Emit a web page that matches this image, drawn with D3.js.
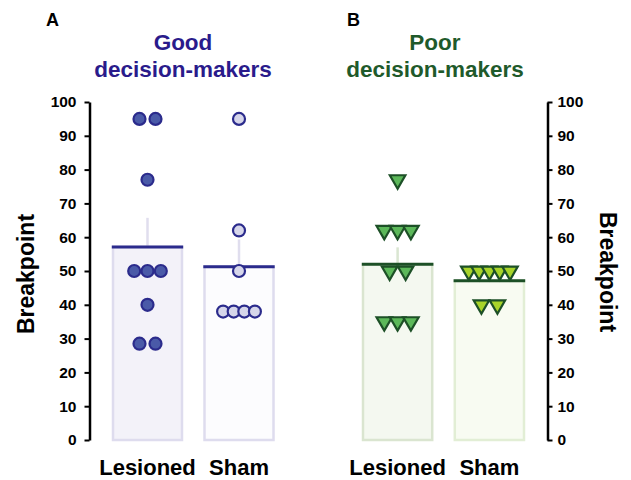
<!DOCTYPE html>
<html>
<head>
<meta charset="utf-8">
<script src="https://cdn.jsdelivr.net/npm/d3@7"></script>
<style>
  body { margin: 0; background: #fff; }
  svg text { font-family: "Liberation Sans", Arial, Helvetica, sans-serif; font-weight: bold; }
</style>
</head>
<body>
<svg id="chart"></svg>
<script>
const width = 631;
const height = 480;

// data
const groups = ["Lesioned", "Sham"];
const goodLesioned = [95, 95, 77, 50, 50, 50, 40, 28.5, 28.5];
const goodSham = [95, 62, 50, 38, 38, 38, 38];
const poorLesioned = [77, 62, 62, 62, 50, 50, 35, 35, 35];
const poorSham = [50, 50, 50, 50, 50, 40, 40];
const yTicks = [0, 10, 20, 30, 40, 50, 60, 70, 80, 90, 100];

const svg = d3.select('#chart')
    .attr('width', width).attr('height', height);

const y = d3.scaleLinear().domain([0, 100]).range([440, 102]);

// spacing between points that share a value, by how many share it
const spread = {1: 0, 2: 16, 3: 13.3, 4: 10.6, 5: 10.3};

const panels = [
  {
    letter: "A", letterX: 46, title: ["Good", "decision-makers"], titleX: 183,
    titleColor: "#2a1b8b", range: [113, 273.5],
    series: [goodLesioned, goodSham],
    barFill: ["#f3f2f9", "#fcfcfe"], barStroke: ["#dedcee", "#dedcee"],
    errColor: "#e0deee", meanColor: "#2b2b8c",
    markFill: ["#4a5aa8", "#d6d6ea"], markStroke: "#2b2b8c",
    shape: "circle"
  },
  {
    letter: "B", letterX: 347, title: ["Poor", "decision-makers"], titleX: 435,
    titleColor: "#1f5a2b", range: [363, 524],
    series: [poorLesioned, poorSham],
    barFill: ["#f4f8f0", "#f8fbf2"], barStroke: ["#dae5d0", "#e2eed5"],
    errColor: "#dae6d2", meanColor: "#1d5027",
    markFill: ["#5cb85a", "#a8d42a"], markStroke: "#1d5027",
    shape: "triangle"
  }
];

panels.forEach(p => {
  const x = d3.scaleBand().domain(groups).range(p.range).paddingInner(0.246).paddingOuter(0);
  const g = svg.append('g');

  g.append('text').attr('x', p.letterX).attr('y', 26)
      .style('font-size', '18px').text(p.letter);
  g.selectAll('.title').data(p.title).enter().append('text')
      .attr('class', 'title')
      .attr('x', p.titleX).attr('y', (d, i) => 50 + i * 26.5)
      .attr('text-anchor', 'middle')
      .style('font-size', '22.5px').style('fill', p.titleColor)
      .text(d => d);

  groups.forEach((grp, i) => {
    const vals = p.series[i];
    const m = d3.mean(vals);
    const sem = d3.deviation(vals) / Math.sqrt(vals.length);
    const x0 = x(grp), bw = x.bandwidth(), cx = x0 + bw / 2;

    g.append('rect')
        .attr('x', x0).attr('y', y(m))
        .attr('width', bw).attr('height', y(0) - y(m))
        .style('fill', p.barFill[i])
        .style('stroke', p.barStroke[i]).style('stroke-width', 2.5);

    g.append('line')
        .attr('x1', cx).attr('x2', cx)
        .attr('y1', y(m)).attr('y2', y(m + sem))
        .style('stroke', p.errColor).style('stroke-width', 2.5);

    g.append('line')
        .attr('x1', x0 - 1.2).attr('x2', x0 + bw + 1.2)
        .attr('y1', y(m)).attr('y2', y(m))
        .style('stroke', p.meanColor).style('stroke-width', 3);

    // lay points side by side where values repeat
    const pts = [];
    d3.groups(vals, v => v).forEach(([v, arr]) => {
      const n = arr.length, s = spread[n] || 10;
      arr.forEach((_, k) => pts.push({v: v, dx: (k - (n - 1) / 2) * s}));
    });

    if (p.shape === "circle") {
      g.selectAll('.pt' + i).data(pts).enter().append('circle')
          .attr('cx', d => cx + d.dx).attr('cy', d => y(d.v)).attr('r', 6)
          .style('fill', p.markFill[i])
          .style('stroke', p.markStroke).style('stroke-width', 2.2);
    } else {
      const tri = d3.symbol(d3.symbolTriangle, 104);
      g.selectAll('.pt' + i).data(pts).enter().append('path')
          .attr('d', tri)
          .attr('transform', d => `translate(${cx + d.dx},${y(d.v)}) rotate(180)`)
          .style('fill', p.markFill[i])
          .style('stroke', p.markStroke).style('stroke-width', 2.2)
          .style('stroke-linejoin', 'miter');
    }

    g.append('text')
        .attr('x', cx).attr('y', 475)
        .attr('text-anchor', 'middle')
        .style('font-size', '22px')
        .text(grp);
  });
});

function styleAxis(sel) {
  sel.select('.domain').style('stroke', '#000').style('stroke-width', 2.5);
  sel.selectAll('.tick line').style('stroke', '#000').style('stroke-width', 2);
  sel.selectAll('.tick text')
      .style('font-family', '"Liberation Sans", Arial, sans-serif')
      .style('font-weight', 'bold').style('font-size', '15.5px').style('fill', '#000');
}

svg.append('g')
    .attr('transform', 'translate(89.5,0)')
    .call(d3.axisLeft(y).tickValues(yTicks).tickSize(5).tickSizeOuter(0).tickPadding(8))
    .call(styleAxis);

svg.append('g')
    .attr('transform', 'translate(547.5,0)')
    .call(d3.axisRight(y).tickValues(yTicks).tickSize(5).tickSizeOuter(0).tickPadding(5))
    .call(styleAxis);

svg.append('text')
    .attr('transform', 'translate(34,274) rotate(-90)')
    .attr('text-anchor', 'middle')
    .style('font-size', '23px')
    .text('Breakpoint');

svg.append('text')
    .attr('transform', 'translate(600,272) rotate(90)')
    .attr('text-anchor', 'middle')
    .style('font-size', '23px')
    .text('Breakpoint');
</script>
</body>
</html>
